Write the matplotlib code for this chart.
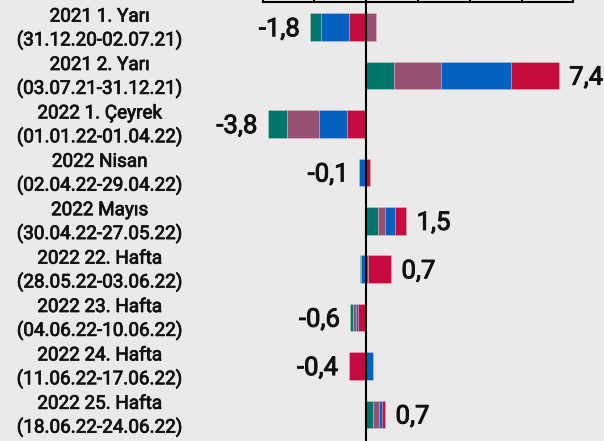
import matplotlib
matplotlib.use("Agg")
import matplotlib.pyplot as plt
import matplotlib.transforms as mtransforms
import matplotlib.patheffects as pe
import numpy as np

categories = [
    "2021 1. Yarı\n(31.12.20-02.07.21)",
    "2021 2. Yarı\n(03.07.21-31.12.21)",
    "2022 1. Çeyrek\n(01.01.22-01.04.22)",
    "2022 Nisan\n(02.04.22-29.04.22)",
    "2022 Mayıs\n(30.04.22-27.05.22)",
    "2022 22. Hafta\n(28.05.22-03.06.22)",
    "2022 23. Hafta\n(04.06.22-10.06.22)",
    "2022 24. Hafta\n(11.06.22-17.06.22)",
    "2022 25. Hafta\n(18.06.22-24.06.22)",
]
teal    = [-0.43, 1.08, -0.72, 0.00, 0.44, -0.04, -0.10, 0.00, 0.26]
mauve   = [ 0.37, 1.82, -1.25, 0.00, 0.28,  0.06, -0.12, 0.00, 0.24]
blue    = [-1.05, 2.70, -1.09, -0.27, 0.39, -0.22, -0.06, 0.26, 0.09]
crimson = [-0.68, 1.84, -0.74, 0.14, 0.43,  0.90, -0.33, -0.68, 0.14]
totals  = [-1.8, 7.4, -3.8, -0.1, 1.5, 0.7, -0.6, -0.4, 0.7]
xticks  = [-4, -2, 0, 2, 4, 6, 8]

series = [teal, mauve, blue, crimson]
colors = ["#00766B", "#965070", "#0560C0", "#C40C3E"]
bg = "#EBE9EA"
txt_color = "#111111"

plt.rcParams['font.family'] = ['Roboto', 'DejaVu Sans']

W, H = 604, 441
fig = plt.figure(figsize=(W / 100, H / 100), dpi=100, facecolor=bg)
ax_left, ax_right = 262.7, 573.3
ax_top = 1.5
ax = fig.add_axes([ax_left / W, 0, (ax_right - ax_left) / W, 1 - ax_top / H])
ax.set_facecolor(bg)

n = len(categories)
spacing = 48.4
c0 = 27.2
ax.set_ylim((H - c0) / spacing, -(c0 - ax_top) / spacing)
ax.set_xlim(-4, 8)
bar_h = 0.57

val_fx = [pe.withStroke(linewidth=0.7, foreground=txt_color)]
cat_fx = [pe.withStroke(linewidth=0.55, foreground=txt_color)]

data = np.array(series)
for i in range(n):
    vals = data[:, i]
    neg_total = vals[vals < 0].sum()
    neg_pos = neg_total
    pos_pos = 0.0
    for k, v in enumerate(vals):
        if v < 0:
            ax.barh(i, -v, left=neg_pos, height=bar_h, color=colors[k],
                    edgecolor=(1, 1, 1, 0.25), linewidth=0.6, zorder=2)
            neg_pos += -v
        elif v > 0:
            ax.barh(i, v, left=pos_pos, height=bar_h, color=colors[k],
                    edgecolor=(1, 1, 1, 0.25), linewidth=0.6, zorder=2)
            pos_pos += v
    label = f"{totals[i]:.1f}".replace(".", ",")
    if totals[i] < 0:
        ax.annotate(label, xy=(neg_total, i), xytext=(-7.5, -1.5),
                    textcoords="offset points", ha="right", va="center",
                    fontsize=18.5, color=txt_color, path_effects=val_fx,
                    annotation_clip=False)
    else:
        ax.annotate(label, xy=(pos_pos, i), xytext=(7.5, -1.5),
                    textcoords="offset points", ha="left", va="center",
                    fontsize=18.5, color=txt_color, path_effects=val_fx,
                    annotation_clip=False)

ax.axvline(0, color="black", lw=1.5, zorder=3)

# category labels
trans = mtransforms.blended_transform_factory(fig.transFigure, ax.transData)
for i, cat in enumerate(categories):
    ax.text(99.5 / W, i + 0.03, cat, transform=trans, ha="center", va="center",
            fontsize=13.6, color=txt_color, path_effects=cat_fx,
            linespacing=1.33, clip_on=False)

for s in ["left", "right", "bottom"]:
    ax.spines[s].set_visible(False)
ax.spines["top"].set_linewidth(1.5)
ax.spines["top"].set_color("black")
ax.xaxis.set_ticks_position("top")
ax.set_xticks(xticks)
ax.tick_params(axis="x", direction="out", length=5, width=1.5,
               labeltop=False, labelbottom=False, color="black")
ax.set_yticks([])

fig.savefig("out.png", dpi=100, facecolor=bg)
